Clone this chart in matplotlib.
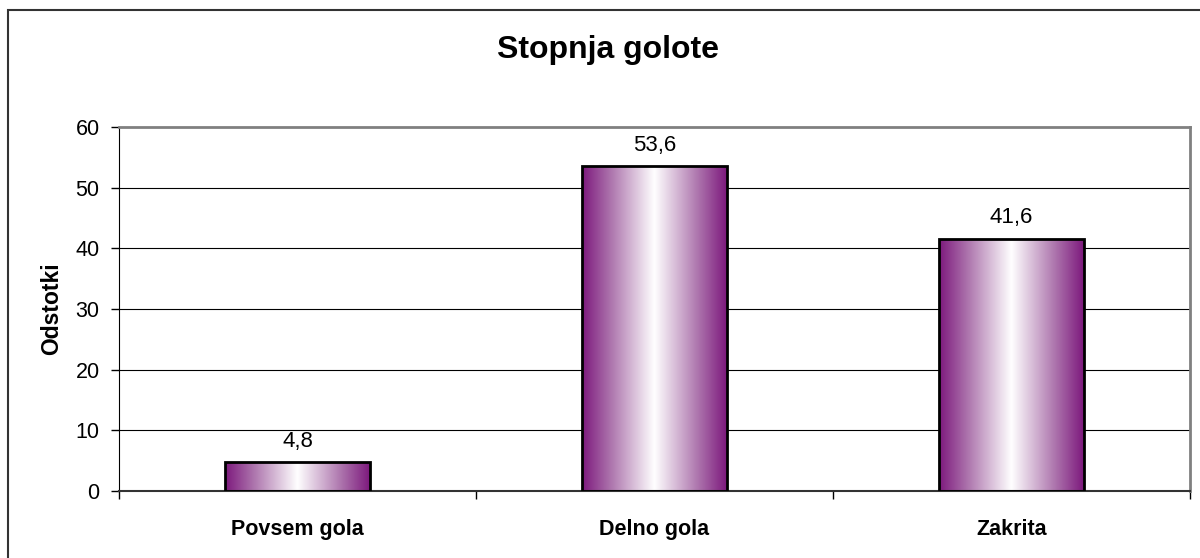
import numpy as np
import matplotlib
matplotlib.use("Agg")
import matplotlib.pyplot as plt
from matplotlib.colors import LinearSegmentedColormap
from matplotlib.patches import Rectangle

categories = ["Povsem gola", "Delno gola", "Zakrita"]
values = [4.8, 53.6, 41.6]
value_labels = ["4,8", "53,6", "41,6"]
yticks = [0, 10, 20, 30, 40, 50, 60]

plt.rcParams["font.family"] = ["Liberation Sans", "DejaVu Sans"]

fig = plt.figure(figsize=(12, 5.58), dpi=100)
fig.patches.append(Rectangle((8 / 1200, -0.1), 1.2, 1 - 10 / 558 + 0.1,
                             transform=fig.transFigure, fill=False,
                             edgecolor="#333333", lw=1.5, zorder=0))

ax = fig.add_axes([119 / 1200, 1 - 491 / 558, 1071 / 1200, 364 / 558])
x = np.arange(len(categories))

for y in yticks[1:-1]:
    ax.axhline(y, color="black", lw=0.8, zorder=1)

purple = (0.49, 0.10, 0.49)
cmap = LinearSegmentedColormap.from_list(
    "pw", [(0.0, purple), (0.2, (0.68, 0.46, 0.68)), (0.5, (1, 1, 1)),
           (0.8, (0.68, 0.46, 0.68)), (1.0, purple)])
grad = np.linspace(0, 1, 256).reshape(1, -1)

bars = ax.bar(x, values, width=0.404, facecolor="none", edgecolor="black",
              lw=2, zorder=3)
for bar, lab in zip(bars, value_labels):
    x0, w, h = bar.get_x(), bar.get_width(), bar.get_height()
    im = ax.imshow(grad, cmap=cmap, aspect="auto",
                   extent=(x0, x0 + w, 0, h), zorder=2, interpolation="bicubic")
    im.set_clip_path(bar)
    ax.text(x0 + w / 2, h + 1.7, lab, ha="center", va="bottom", fontsize=16)
ax.set_xlim(-0.5, 2.5)
ax.set_ylim(0, 60)

ax.spines["top"].set_color("#808080")
ax.spines["right"].set_color("#808080")
ax.spines["top"].set_linewidth(2)
ax.spines["right"].set_linewidth(2)
ax.spines["left"].set_color("black")
ax.spines["bottom"].set_color("#333333")
ax.spines["bottom"].set_linewidth(1.5)

ax.set_yticks(yticks)
ax.set_yticklabels([str(t) for t in yticks], fontsize=15.5)
ax.tick_params(axis="y", direction="out", length=6, width=1, pad=8)

ax.set_xticks(x)
ax.set_xticklabels(categories, fontsize=15.5, fontweight="bold")
ax.set_xticks([-0.5, 0.5, 1.5, 2.5], minor=True)
ax.tick_params(axis="x", which="major", length=0, pad=20)
ax.tick_params(axis="x", which="minor", direction="out", length=6, width=1)

ax.set_ylabel("Odstotki", fontsize=16.5, fontweight="bold", labelpad=9)
fig.text(608 / 1200, 1 - 50 / 558, "Stopnja golote", ha="center", va="center",
         fontsize=23, fontweight="bold")

fig.savefig("out.png", dpi=100, facecolor="white")
